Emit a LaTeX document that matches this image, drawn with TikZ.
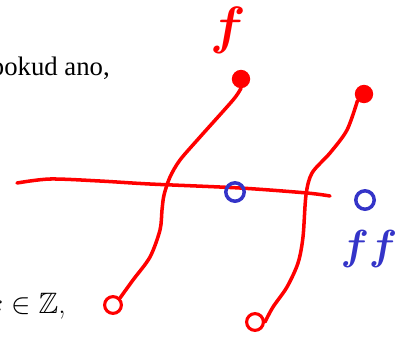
\documentclass[tikz,border=0pt]{standalone}
\usepackage{amssymb}
\usepackage{bm}
\usepackage{fontspec}
\newfontfamily\garafont{Liberation Serif}
\definecolor{penblue}{RGB}{52,52,200}
\begin{document}
\begin{tikzpicture}[x=0.025cm, y=-0.025cm,
    pen/.style={draw=red, line width=2.5pt, line cap=round, line join=round},
    endpt/.style={circle, draw=red, line width=2.2pt, minimum size=0.38cm, inner sep=0pt},
    dot/.style={circle, draw=penblue, line width=2.5pt, minimum size=0.46cm, inner sep=0pt}]
  \useasboundingbox (0,0) rectangle (400,338);
  % page text
  \node[anchor=base east, inner sep=0pt, font=\garafont\fontsize{19}{22}\selectfont] (txtA) at (110,75) {pokud ano,};
  \node[anchor=base east, inner sep=0pt, font=\fontsize{21}{24}\selectfont] (txtB) at (66,313) {$x\in\mathbb{Z}$,};
  % horizontal stroke
  \coordinate (h1) at (17,183);
  \coordinate (h2) at (330,196);
  \draw[pen] plot[smooth] coordinates {(h1) (50,179) (100,181) (150,184) (240,188) (307,193) (h2)};
  % end points of the two curves
  \node[endpt, fill=red] (t1) at (241,79) {};
  \node[endpt, fill=red] (t2) at (364,94) {};
  \node[endpt, minimum size=0.42cm] (b1) at (113,305) {};
  \node[endpt, minimum size=0.42cm] (b2) at (255,322) {};
  % left curve
  \draw[pen] plot[smooth] coordinates {(t1.south) (233,100) (200,137) (180,160) (170,177)
    (164,195) (162,210) (160,230) (150,257) (133,280) (b1.north east)};
  % right curve
  \draw[pen] plot[smooth] coordinates {(t2.south west) (347,130) (330,153) (312,173)
    (306,195) (303,237) (298,263) (287,287) (273,307) (b2.east)};
  % blue marks
  \node[dot] (m) at (235,192) {};
  \node[dot] (comp) at (365,200) {};
  % labels
  \node[red, font=\fontsize{24}{24}\selectfont, scale=1.5, transform shape] (lf) at (228,30) {$\bm{f}$};
  \node[penblue, font=\fontsize{24}{24}\selectfont, scale=1.2, transform shape] (lff) at (369,249) {$\bm{ff}$};
\end{tikzpicture}
\end{document}
